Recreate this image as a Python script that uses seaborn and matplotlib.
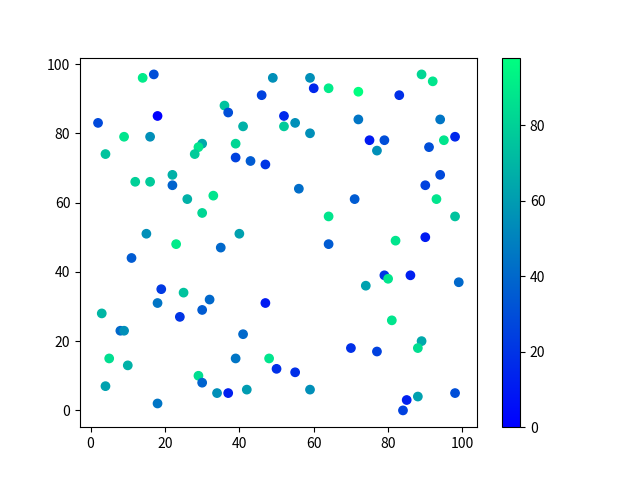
import matplotlib
matplotlib.use("Agg")
import matplotlib.pyplot as plt
import seaborn as sns
import pandas as pd
import numpy as np

# ======= data ======= #
x_vals = [2, 4, 14, 17, 18, 9, 16, 30, 29, 28, 22, 12, 16, 22, 49, 59, 60, 64, 46, 36,
          37, 52, 41, 52, 55, 59, 39, 39, 43, 47, 56, 72, 83, 89, 92, 72, 94, 75, 79, 77,
          91, 95, 98, 94, 90, 26, 30, 33, 15, 23, 11, 19, 25, 18, 32, 30, 3, 64, 40, 35,
          64, 47, 71, 93, 98, 90, 82, 79, 80, 86, 74, 99, 24, 8, 9, 5, 10, 4, 29, 30,
          18, 41, 39, 48, 50, 55, 34, 37, 42, 59, 81, 70, 77, 89, 88, 98, 88, 85, 84]
y_vals = [83, 74, 96, 97, 85, 79, 79, 77, 76, 74, 68, 66, 66, 65, 96, 96, 93, 93, 91, 88,
          86, 85, 82, 82, 83, 80, 77, 73, 72, 71, 64, 92, 91, 97, 95, 84, 84, 78, 78, 75,
          76, 78, 79, 68, 65, 61, 57, 62, 51, 48, 44, 35, 34, 31, 32, 29, 28, 56, 51, 47,
          48, 31, 61, 61, 56, 50, 49, 39, 38, 39, 36, 37, 27, 23, 23, 15, 13, 7, 10, 8,
          2, 22, 15, 15, 12, 11, 5, 5, 6, 6, 26, 18, 17, 20, 18, 5, 4, 3, 0]
c_vals = [28, 75, 90, 30, 0, 88, 55, 65, 88, 78, 68, 80, 78, 38, 55, 55, 15, 90, 25, 75,
          30, 15, 68, 78, 55, 55, 82, 25, 35, 20, 42, 98, 18, 82, 88, 45, 45, 10, 30, 55,
          30, 88, 15, 28, 25, 68, 82, 88, 55, 90, 35, 22, 75, 45, 40, 35, 70, 88, 62, 40,
          35, 10, 35, 88, 75, 10, 88, 20, 88, 12, 62, 40, 20, 40, 55, 85, 68, 62, 85, 38,
          45, 40, 45, 88, 18, 18, 55, 12, 60, 55, 88, 18, 25, 65, 85, 30, 62, 12, 25]

df = pd.DataFrame({"x": x_vals, "y": y_vals, "c": c_vals})

plt.rcParams['font.family'] = ['Noto Sans CJK SC', 'DejaVu Sans']

fig, ax = plt.subplots(figsize=(6.4, 4.8), dpi=100)

vmin, vmax = min(c_vals), max(c_vals)

sns.scatterplot(
    data=df,
    x="x",
    y="y",
    hue="c",
    palette="winter",
    hue_norm=(vmin, vmax),
    s=36,
    edgecolor="face",
    linewidth=1,
    legend=False,
    ax=ax
)

ax.set_xlabel("")
ax.set_ylabel("")

# colorbar
sm = plt.cm.ScalarMappable(cmap="winter", norm=plt.Normalize(vmin, vmax))
fig.colorbar(sm, ax=ax)

fig.savefig("out.png", dpi=100)
